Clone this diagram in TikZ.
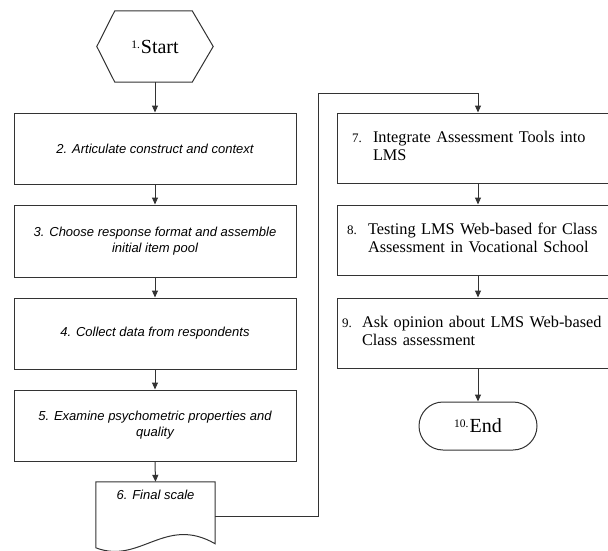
\documentclass[tikz,border=0pt]{standalone}
\usepackage{fontspec}
\setmainfont{Liberation Serif}
\newfontfamily\arialfont{Liberation Sans}
\usetikzlibrary{arrows.meta,calc,shapes.misc}
\newcommand\stepnum[1]{{\fontsize{13}{13}\selectfont #1}}
\begin{document}
\begin{tikzpicture}[x=1pt,y=-1pt,
  line/.style={draw=black!80,line width=1pt},
  arr/.style={line,-{Triangle[length=7pt,width=6pt]}},
  lfont/.style={font=\arialfont\itshape\fontsize{13}{16}\selectfont},
  lbox/.style={line,rectangle,lfont,minimum width=282pt,minimum height=71pt,align=center,inner sep=0pt},
  rbox/.style={line,rectangle,font=\fontsize{16.3}{18}\selectfont,minimum height=70pt,align=left,inner ysep=0pt}
]
\useasboundingbox (0,0) rectangle (608,551);
\clip (0,0) rectangle (608,551);
\fill[white] (0,0) rectangle (608,551);

% start hexagon
\node[minimum width=116pt,minimum height=71pt,inner sep=0pt,font=\fontsize{20}{24}\selectfont] (s1) at (155,46.5)
  {\raisebox{5pt}{\fontsize{11.5}{12}\selectfont 1.}\kern1pt Start};
\draw[line] (s1.west) -- ($(s1.north west)+(18,0)$) -- ($(s1.north east)+(-21,0)$) -- (s1.east)
  -- ($(s1.south east)+(-21,0)$) -- ($(s1.south west)+(18,0)$) -- cycle;

% left column
\node[lbox] (b2) at (155,148.5) {2. Articulate construct and context};
\node[lbox,minimum height=72pt] (b3) at (155,241) {3. Choose response format and assemble\\initial item pool};
\node[lbox] (b4) at (155,333.5) {4. Collect data from respondents};
\node[lbox] (b5) at (155,425.5) {5. Examine psychometric properties and\\quality};

% document shape
\node[lfont,minimum width=119pt,minimum height=26pt,inner sep=0pt] (d6) at (155.5,495) {6. Final scale};
\draw[line] (d6.north west) -- (d6.north east) -- ($(d6.north east)+(0,62)$)
  .. controls ($(d6.north east)+(-50,33)$) and ($(d6.north east)+(-75,83)$) .. ($(d6.north west)+(0,66)$) -- cycle;

% right column
\node[rbox,inner xsep=15pt,text width=245pt] (b7) at (474.5,148)
  {\raisebox{-8pt}{\begin{tabular}{@{}p{21pt}@{}l@{}}\stepnum{7.} & Integrate Assessment Tools into\\ & LMS\end{tabular}}};
\node[rbox,inner xsep=10pt,text width=255pt] (b8) at (474.5,240)
  {\begin{tabular}{@{}p{21pt}@{}l@{}}\stepnum{8.} & Testing LMS Web-based for Class\\ & Assessment in Vocational School\end{tabular}};
\node[rbox,inner xsep=5pt,text width=265pt] (b9) at (474.5,333)
  {\begin{tabular}{@{}p{20pt}@{}l@{}}\stepnum{9.} & Ask opinion about LMS Web-based\\ & Class assessment\end{tabular}};
\node[line,rounded rectangle,minimum width=118pt,minimum height=48pt,inner sep=0pt,font=\fontsize{20}{24}\selectfont] (e10) at (478,426)
  {\raisebox{5pt}{\fontsize{11.5}{12}\selectfont 10.}\kern1pt End};

% connectors
\draw[arr] (s1.south) -- (b2.north);
\draw[arr] (b2.south) -- (b3.north);
\draw[arr] (b3.south) -- (b4.north);
\draw[arr] (b4.south) -- (b5.north);
\draw[arr] (b5.south) -- (d6.north);
\coordinate (d6x) at ($(d6.north east)+(0,35)$);
\coordinate (turn) at (318,94);
\draw[arr] (d6x) -| (turn) -| (b7.north -| e10.north);
\draw[arr] (b7.south -| e10.north) -- (b8.north -| e10.north);
\draw[arr] (b8.south -| e10.north) -- (b9.north -| e10.north);
\draw[arr] (b9.south -| e10.north) -- (e10.north);
\end{tikzpicture}
\end{document}
